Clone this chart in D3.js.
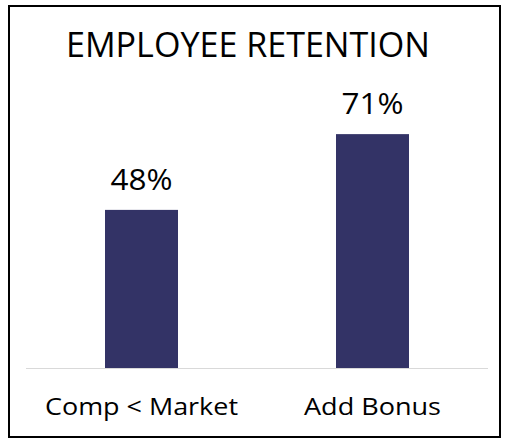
<!DOCTYPE html>
<html><head><meta charset="utf-8">
<script src="https://cdn.jsdelivr.net/npm/d3@7"></script>
<style>body{margin:0;background:#fff}svg{display:block}</style>
</head><body>
<script>
const categories = ["Comp < Market", "Add Bonus"];
const values = [0.48, 0.71];
const title = "EMPLOYEE RETENTION";

const W = 505, H = 442;
const svg = d3.select("body").append("svg").attr("width", W).attr("height", H);
const font = "'Open Sans', 'Noto Sans', sans-serif";

svg.append("rect").attr("x", 9).attr("y", 6).attr("width", 491).attr("height", 431)
  .attr("fill", "#fff").attr("stroke", "#000").attr("stroke-width", 2);

svg.append("text").attr("x", 248).attr("y", 57).attr("text-anchor", "middle")
  .attr("font-family", font).attr("font-size", 34).attr("fill", "#000")
  .attr("textLength", 364).attr("lengthAdjust", "spacingAndGlyphs").text(title);

const x = d3.scaleBand().domain(categories).range([26, 488]).paddingInner(0.684).paddingOuter(0.342);
const y = d3.scaleLinear().domain([0, 1]).range([368, 38.6]);

svg.selectAll("rect.bar").data(values).enter().append("rect").attr("class", "bar")
  .attr("x", (d, i) => x(categories[i])).attr("width", x.bandwidth())
  .attr("y", d => y(d)).attr("height", d => y(0) - y(d)).attr("fill", "#333366");

svg.append("line").attr("x1", 26).attr("x2", 488).attr("y1", y(0) + 0.5).attr("y2", y(0) + 0.5)
  .attr("stroke", "#d9d9d9").attr("stroke-width", 1);

svg.selectAll("text.val").data(values).enter().append("text").attr("class", "val")
  .attr("x", (d, i) => x(categories[i]) + x.bandwidth() / 2).attr("y", d => y(d) - 20)
  .attr("text-anchor", "middle").attr("font-family", font).attr("font-size", 29).attr("fill", "#000")
  .attr("textLength", 62).attr("lengthAdjust", "spacingAndGlyphs")
  .text(d => d3.format(".0%")(d));

const labelWidths = [193, 137];
const xAxis = d3.axisBottom(x).tickSize(0).tickPadding(0);
const gx = svg.append("g").attr("transform", `translate(0,${y(0)})`).call(xAxis);
gx.select(".domain").remove();
gx.selectAll("text").attr("font-family", font).attr("font-size", 24).attr("fill", "#000")
  .attr("dy", null).attr("y", 47)
  .attr("textLength", (d, i) => labelWidths[i]).attr("lengthAdjust", "spacingAndGlyphs");
</script>
</body></html>
